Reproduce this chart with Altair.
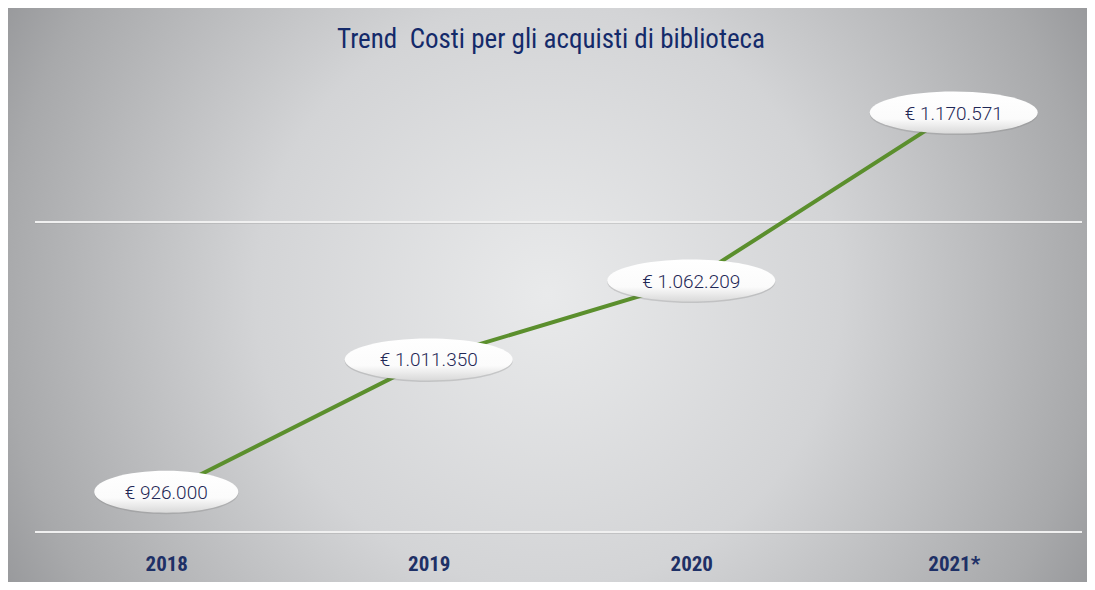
import altair as alt
import pandas as pd

# ---- data ----
years = ["2018", "2019", "2020", "2021*"]
costs = [926000, 1011350, 1062209, 1170571]
grid_values = [900000, 1100000]
y_domain = [900000, 1200000]
title_text = "Trend\u00a0 Costi per gli acquisti di biblioteca"

labels = ["€ " + f"{v:,}".replace(",", ".") for v in costs]
df = pd.DataFrame({"anno": years, "costo": costs, "etichetta": labels})

W, H = 1050, 465
PAD = {"left": 27, "top": 59, "right": 2, "bottom": 50}
NARROW = "Liberation Sans Narrow, Arial Narrow, Roboto Condensed, DejaVu Sans Condensed, sans-serif"
NAVY = "#142a6a"

yscale = alt.Scale(domain=y_domain, zero=False, nice=False)
x_enc = alt.X(
    "anno:N", sort=years,
    scale=alt.Scale(type="point", padding=0.5),
    axis=alt.Axis(title=None, ticks=False, domain=False, grid=False, labelAngle=0,
                  labelPadding=21, labelFont=NARROW, labelFontSize=21, zindex=2,
                  labelFontWeight="bold", labelColor="#1e3066"),
)
y_enc = alt.Y("costo:Q", scale=yscale, axis=None)

bg_fill = alt.RadialGradient(
    gradient="radial",
    stops=[
        alt.GradientStop(offset=0, color="#e9eaeb"),
        alt.GradientStop(offset=0.45, color="#d3d4d6"),
        alt.GradientStop(offset=0.84, color="#a8a9ab"),
        alt.GradientStop(offset=1, color="#909194"),
    ],
    x1=0.5, y1=0.5, r1=0, x2=0.5, y2=0.5, r2=0.6,
)
one = pd.DataFrame({"titolo": [title_text]})
bg = alt.Chart(one).mark_rect(fill=bg_fill, strokeWidth=0).encode(
    x=alt.value(-PAD["left"]), x2=alt.value(W + PAD["right"]),
    y=alt.value(-PAD["top"] - 255), y2=alt.value(H + PAD["bottom"] + 255),
)

title = alt.Chart(one).mark_text(font=NARROW, fontSize=27, color=NAVY, align="center",
                                 baseline="alphabetic").encode(
    text="titolo:N", x=alt.value(W / 2 - 9), y=alt.value(-19))

gdf = pd.DataFrame({"g": grid_values})
grid_shadow = alt.Chart(gdf).mark_rule(color="#9a9a9a", strokeWidth=1, opacity=0.35, yOffset=1.5).encode(
    y=alt.Y("g:Q", scale=yscale, axis=None), x=alt.value(0), x2=alt.value(W - 3))
grid = alt.Chart(gdf).mark_rule(color="#f0f0f0", strokeWidth=2).encode(
    y=alt.Y("g:Q", scale=yscale, axis=None), x=alt.value(0), x2=alt.value(W - 3))

base = alt.Chart(df).encode(x=x_enc, y=y_enc)

line = base.mark_line(color="#5b8f2d", strokeWidth=4)

ell = base.transform_calculate(
    w="12*length(datum.etichetta)+36",
).transform_calculate(
    k="42/datum.w",
).transform_calculate(
    a="0.5523*datum.k",
    s="datum.w*datum.w",
).transform_calculate(
    path="'M -1 0 C -1 ' + (-datum.a) + ' -0.5523 ' + (-datum.k) + ' 0 ' + (-datum.k)"
         " + ' C 0.5523 ' + (-datum.k) + ' 1 ' + (-datum.a) + ' 1 0'"
         " + ' C 1 ' + datum.a + ' 0.5523 ' + datum.k + ' 0 ' + datum.k"
         " + ' C -0.5523 ' + datum.k + ' -1 ' + datum.a + ' -1 0 Z'",
)

ell_fill = alt.LinearGradient(
    gradient="linear",
    stops=[
        alt.GradientStop(offset=0, color="#ffffff"),
        alt.GradientStop(offset=0.65, color="#fbfbfb"),
        alt.GradientStop(offset=1, color="#d9d9d9"),
    ],
    x1=0, y1=0, x2=0, y2=1,
)
ell_shadow = ell.mark_point(filled=True, fill="#6f6f6f", opacity=0.25, strokeWidth=0, yOffset=1.5).encode(
    shape=alt.Shape("path:N", scale=None), size=alt.Size("s:Q", scale=None))
ellipses = ell.mark_point(filled=True, fill=ell_fill, opacity=1, strokeWidth=0).encode(
    shape=alt.Shape("path:N", scale=None), size=alt.Size("s:Q", scale=None))

text = base.mark_text(font="Roboto, Liberation Sans, sans-serif", fontWeight=300, fontSize=19,
                      color="#1f2856", baseline="middle", dy=1).encode(text="etichetta:N")

chart = alt.layer(bg, title, grid_shadow, grid, line, ell_shadow, ellipses, text).properties(
    width=W, height=H,
    autosize=alt.AutoSizeParams(type="none"),
    padding=PAD,
).configure_view(stroke=None).configure(background="white")

chart.save("out.html", embed_options={"renderer": "svg", "actions": False})
